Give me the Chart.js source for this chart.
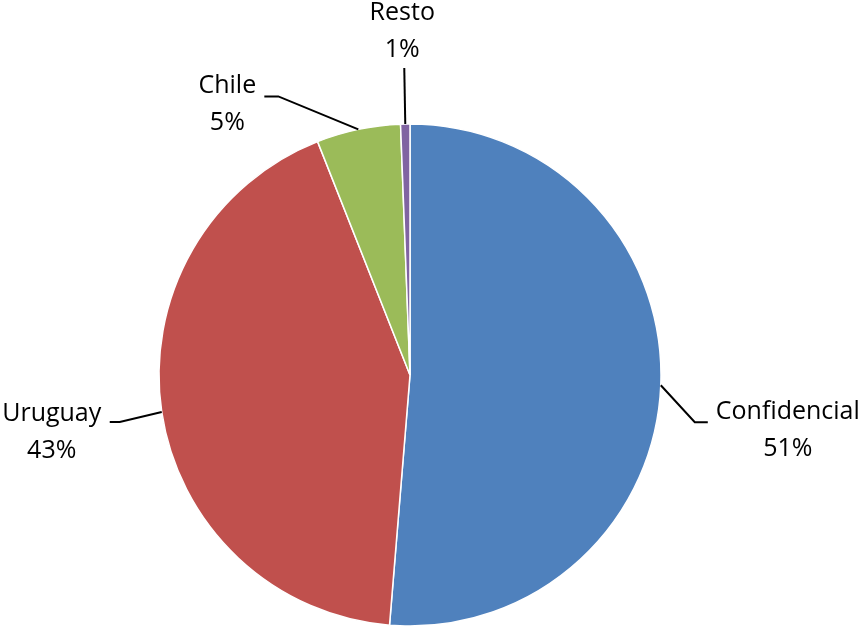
<!DOCTYPE html>
<html>
<head>
<meta charset="utf-8">
<script src="https://cdn.jsdelivr.net/npm/chart.js@4"></script>
<style>
  html, body { margin: 0; padding: 0; background: #fff; }
  #wrap { width: 863px; height: 628px; }
</style>
</head>
<body>
<div id="wrap"><canvas id="pie"></canvas></div>
<script>
// data
const categories = ['Confidencial', 'Uruguay', 'Chile', 'Resto'];
const shares = [51.3, 42.7, 5.4, 0.6];
const shareLabels = ['51%', '43%', '5%', '1%'];
const sliceColors = ['#4F81BD', '#C0504D', '#9BBB59', '#8064A2'];

// where each label sits, relative to the point where its leader leaves the slice
// elbow/end: leader bend and end; text: centre of the first text line
const labelLayout = [
    { elbow: [34, 37], end: [47, 37], text: [127, 27] },
    { elbow: [-42, 10], end: [-52, 10], text: [-110, 2] },
    { elbow: [-80, -33], end: [-94, -33], text: [-131, -44] },
    { elbow: null, end: [-1, -56], text: [-3, -111] }
];

const FONT = '25px "Open Sans", "Noto Sans", sans-serif';
const LINE_GAP = 37;

const outsideLabels = {
    id: 'outsideLabels',
    afterDatasetsDraw(chart) {
        const ctx = chart.ctx;
        const meta = chart.getDatasetMeta(0);
        ctx.save();
        meta.data.forEach((arc, i) => {
            const mid = (arc.startAngle + arc.endAngle) / 2;
            const sx = arc.x + Math.cos(mid) * arc.outerRadius;
            const sy = arc.y + Math.sin(mid) * arc.outerRadius;
            const lay = labelLayout[i];

            ctx.strokeStyle = '#000';
            ctx.lineWidth = 2;
            ctx.beginPath();
            ctx.moveTo(sx, sy);
            if (lay.elbow) ctx.lineTo(sx + lay.elbow[0], sy + lay.elbow[1]);
            ctx.lineTo(sx + lay.end[0], sy + lay.end[1]);
            ctx.stroke();

            ctx.fillStyle = '#000';
            ctx.font = FONT;
            ctx.textAlign = 'center';
            ctx.textBaseline = 'middle';
            const tx = sx + lay.text[0];
            const ty = sy + lay.text[1];
            ctx.fillText(categories[i], tx, ty);
            ctx.fillText(shareLabels[i], tx, ty + LINE_GAP);
        });
        ctx.restore();
    }
};

new Chart(document.getElementById('pie'), {
    type: 'pie',
    data: {
        labels: categories,
        datasets: [{
            data: shares,
            backgroundColor: sliceColors,
            borderColor: '#fff',
            borderWidth: 1.5,
            radius: 251
        }]
    },
    options: {
        responsive: true,
        maintainAspectRatio: false,
        animation: false,
        layout: { padding: { left: 0, right: 43, top: 122, bottom: 0 } },
        plugins: {
            legend: { display: false },
            tooltip: { enabled: false }
        }
    },
    plugins: [outsideLabels]
});
</script>
</body>
</html>
